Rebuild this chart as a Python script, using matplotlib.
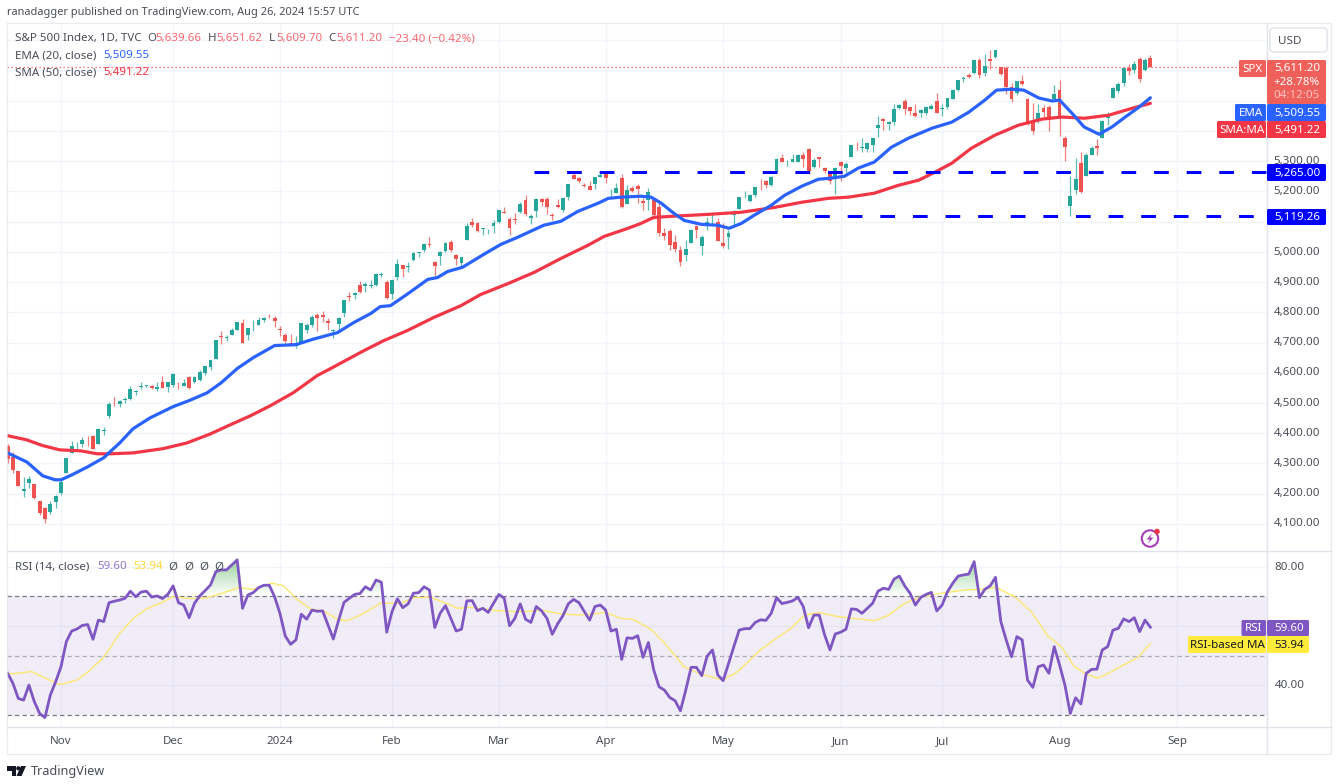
import numpy as np
import matplotlib
matplotlib.use("Agg")
import matplotlib.pyplot as plt
from matplotlib.patches import FancyBboxPatch, Circle, Polygon
from matplotlib.path import Path

plt.rcParams['font.family'] = ['Noto Sans', 'DejaVu Sans']

# daily candles, Oct 18 2023 .. Aug 26 2024
opens = [4357,4322,4274,4210,4235,4232,4175,4152,4140,4172,
    4201,4268,4334,4364,4366,4384,4391,4365,4406,4458,4505,4497,4509,4512,4538,4553,4555,4555,4545,4571,4554,
    4559,4570,4557,4586,4568,4576,4600,4619,4647,4721,4715,4725,4743,4764,4725,4754,4758,4773,4786,4782,
    4745,4726,4697,4690,4703,4741,4759,4792,4791,4772,4739,4760,4797,4854,4856,4889,4886,4888,4892,4925,4899,
    4862,4916,4957,4950,4974,4995,5005,5027,4968,4985,5004,5031,4989,4963,5038,5100,5094,5074,5068,5085,
    5098,5131,5110,5108,5132,5173,5111,5134,5174,5175,5123,5154,5139,5182,5254,5243,5220,5219,5226,5248,
    5258,5204,5195,5244,5158,5212,5217,5167,5172,5171,5149,5064,5068,5032,5005,4988,5028,5084,5020,5085,5115,5099,
    5029,5050,5123,5142,5187,5168,5189,5225,5234,5222,5264,5311,5303,5298,5298,5319,5340,5281,5315,5278,5259,5244,
    5297,5278,5314,5353,5343,5341,5353,5409,5441,5424,5431,5476,5499,5479,5459,5460,5460,5473,5499,
    5471,5478,5507,5537,5572,5584,5591,5636,5590,5638,5644,5610,5608,5544,5526,5565,5506,5428,5433,5476,5478,5506,
    5537,5376,5151,5206,5293,5252,5319,5351,5376,5443,5508,5531,5557,5609,5603,5637,5603,5640]
highs = [4364,4339,4276,4256,4259,4232,4177,4156,4177,4195,
    4246,4319,4374,4372,4386,4391,4393,4416,4421,4504,4521,4511,4521,4557,4542,4568,4560,4560,4568,4588,4570,
    4599,4570,4578,4590,4590,4609,4623,4643,4710,4739,4725,4749,4769,4779,4749,4773,4784,4785,4794,4788,
    4755,4730,4727,4721,4764,4765,4790,4799,4803,4782,4745,4783,4842,4868,4866,4903,4899,4907,4929,4932,4906,
    4906,4975,4958,4965,4999,5000,5030,5049,4970,5003,5032,5038,4994,4983,5094,5111,5098,5080,5077,5104,
    5140,5150,5114,5127,5165,5189,5124,5179,5179,5180,5128,5175,5180,5225,5261,5246,5229,5236,5249,5264,
    5264,5209,5229,5256,5222,5219,5224,5178,5211,5175,5168,5079,5077,5056,5019,5039,5076,5089,5057,5114,5124,5111,
    5096,5073,5140,5181,5200,5192,5215,5240,5238,5250,5312,5325,5305,5325,5324,5329,5342,5311,5315,5282,5265,5280,
    5302,5298,5354,5362,5376,5365,5376,5448,5442,5432,5488,5490,5506,5478,5490,5472,5484,5490,5524,
    5490,5510,5539,5570,5583,5590,5634,5642,5655,5667,5667,5613,5614,5557,5563,5586,5508,5491,5489,5487,5486,5551,
    5567,5383,5250,5312,5330,5328,5351,5372,5436,5461,5546,5561,5608,5621,5632,5643,5641,5652]
lows = [4303,4269,4224,4189,4220,4181,4128,4104,4132,4153,
    4197,4268,4334,4348,4355,4359,4347,4365,4393,4451,4491,4487,4499,4511,4526,4545,4552,4546,4540,4551,4537,
    4554,4546,4557,4546,4565,4574,4594,4608,4644,4694,4704,4725,4743,4699,4709,4737,4758,4768,4781,4751,
    4723,4700,4687,4683,4699,4730,4752,4739,4769,4740,4715,4740,4785,4839,4844,4865,4866,4881,4887,4917,4845,
    4845,4907,4918,4934,4970,4984,5000,5016,4920,4956,5000,4999,4955,4946,5038,5081,5067,5057,5058,5061,
    5094,5127,5056,5092,5128,5117,5091,5115,5151,5125,5104,5145,5131,5171,5240,5229,5216,5203,5209,5246,
    5229,5184,5195,5146,5157,5197,5160,5138,5138,5108,5052,5039,5007,5001,4954,4969,5028,5047,4990,5073,5089,5035,
    5013,5011,5086,5143,5178,5166,5180,5205,5211,5218,5264,5297,5283,5298,5298,5281,5257,5279,5280,5262,5223,5191,
    5235,5257,5314,5336,5331,5331,5331,5380,5403,5403,5421,5471,5455,5452,5447,5447,5452,5474,5460,
    5451,5472,5507,5531,5562,5574,5588,5576,5583,5606,5640,5586,5522,5497,5518,5551,5419,5390,5427,5444,5399,5505,
    5383,5302,5119,5193,5195,5252,5321,5320,5376,5421,5508,5526,5550,5585,5593,5561,5599,5610]
closes = [4315,4278,4224,4217,4248,4187,4137,4117,4167,4194,
    4238,4318,4358,4366,4378,4383,4347,4415,4412,4496,4503,4508,4514,4547,4538,4557,4559,4550,4554,4551,4568,
    4595,4569,4567,4549,4585,4604,4622,4643,4707,4719,4719,4741,4768,4699,4747,4755,4774,4781,4783,4770,
    4743,4705,4689,4697,4764,4757,4783,4780,4784,4766,4739,4781,4840,4851,4865,4868,4895,4891,4928,4925,4846,
    4906,4959,4943,4954,4995,4998,5027,5022,4953,5001,5030,5006,4976,4982,5087,5089,5070,5078,5070,5096,
    5137,5130,5079,5105,5157,5124,5117,5175,5165,5150,5117,5149,5179,5225,5241,5234,5218,5204,5248,5254,
    5243,5205,5211,5147,5204,5202,5209,5161,5199,5123,5061,5051,5022,5011,4967,5011,5071,5072,5048,5100,5116,5036,
    5018,5064,5128,5181,5187,5188,5214,5223,5221,5247,5308,5297,5303,5308,5321,5307,5268,5305,5306,5267,5235,5278,
    5283,5292,5354,5352,5347,5361,5375,5421,5433,5431,5473,5487,5473,5465,5448,5469,5478,5483,5460,
    5475,5509,5537,5567,5572,5577,5634,5585,5615,5631,5667,5588,5545,5505,5564,5555,5427,5400,5459,5464,5436,5522,
    5446,5346,5186,5240,5199,5319,5344,5344,5434,5455,5543,5554,5608,5597,5621,5571,5635,5611.2]

ema_days = [0,3.6,6.6,8.9,10,12,15,18,21,23.5,26.7,31,34,37.4,40,43,46,50,54,57,61.8,64.8,68,69.8,71.7,75,78.7,80.5,82.4,85.2,
    89.2,92.4,95.5,100.4,103.6,106.8,110.6,112.5,114.9,118.6,120.5,122.4,124.8,126.7,129.9,133,135.1,137.4,139.8,143,145.5,
    148.7,151.8,154.3,156.7,159.3,162.3,165.5,168.7,173.1,176.8,180,183,185.2,188,190.3,193.1,195.6,197,199.3,201.6,204.4,
    206.8,209.3,211.9,214]
ema_vals = [4335,4305,4259,4246,4246,4262,4289,4319,4368,4415,4451,4488,4508,4534,4567,4614,4650,4690,4693,4710,4733,4766,4796,4819,4822,4862,4909,4915,4935,4949,
    4992,5025,5048,5088,5101,5134,5161,5177,5181,5184,5181,5161,5127,5104,5091,5088,5078,5094,5121,5154,5187,
    5217,5240,5244,5250,5277,5297,5346,5376,5409,5429,5462,5502,5535,5538,5535,5509,5499,5502,5459,5413,5389,
    5413,5446,5479,5509.55]
sma_days = [0,3.6,6.6,9.8,13.6,16.8,19.2,23.5,29.1,33.6,38,41.7,45.5,49.2,53.5,58,60.5,66.7,70.4,74.9,79.8,84.9,88.6,93.7,98.6,103.6,108.6,111.7,116.2,
    118.6,121,124.8,131.2,137.4,143.6,148.7,153.7,157.5,162.3,166.8,170.6,173.6,176.8,180.5,184.9,189.3,193.7,197.4,201.7,206.2,210.6,214]
sma_vals = [4392,4378,4359,4345,4342,4332,4332,4335,4349,4368,4398,4428,4458,4491,4534,4591,4614,4673,4706,4740,4783,4822,4859,4895,4932,4978,5021,5051,5078,
    5094,5114,5118,5124,5131,5147,5164,5177,5181,5194,5220,5237,5263,5293,5343,5386,5419,5439,5446,5442,5452,5475,5491.22]

rsi_vals = [44.0,40.6,35.5,34.9,40.0,34.4,30.4,29.0,36.6,41.1,
    46.2,54.7,58.3,59.0,60.2,60.5,55.5,62.0,61.5,67.9,
    68.4,68.8,69.4,71.8,69.9,71.5,71.8,69.8,70.2,69.3,
    70.7,73.6,67.9,67.1,62.8,67.7,70.2,72.0,73.9,78.4,
    79.0,79.0,80.7,82.4,66.0,70.5,71.3,73.0,73.8,73.8,
    69.9,64.3,56.6,53.8,55.3,64.0,62.3,65.4,65.0,65.1,
    60.3,55.6,62.0,68.0,69.4,70.7,71.0,73.3,72.2,75.6,
    74.8,57.9,64.9,69.2,66.2,67.5,71.1,71.3,73.3,72.2,
    59.5,64.3,66.9,62.6,
    58.3,58.9,68.5,68.6,65.2,66.0,64.6,67.7,70.7,69.4,
    60.1,62.6,67.5,62.3,61.2,66.6,65.1,62.6,57.2,60.7,
    63.5,67.5,69.0,67.9,64.9,62.0,66.6,67.1,65.4,58.3,
    58.9,48.7,56.0,55.8,56.7,49.4,54.4,45.1,39.4,38.3,
    35.8,34.7,31.3,38.3,46.0,46.0,43.2,49.8,51.9,43.4,
    41.5,47.3,53.0,58.6,59.1,59.1,61.2,62.1,61.9,64.3,
    69.6,67.6,68.0,68.5,69.7,66.6,59.4,63.7,63.7,57.0,
    51.9,57.3,57.9,58.9,65.8,65.6,64.3,66.0,67.7,71.8,
    72.8,72.4,75.9,76.9,73.6,71.1,67.1,69.7,70.7,71.4,
    65.1,67.1,71.6,74.5,76.9,77.3,77.6,81.8,69.6,72.4,
    73.6,76.5,61.5,55.3,49.6,56.4,55.3,41.7,39.2,46.2,
    46.8,44.0,53.0,46.8,40.0,30.4,35.7,33.6,44.0,45.3,
    45.4,51.9,53.0,58.6,59.2,62.4,61.5,62.8,58.1,62.0,59.6]
rsi_ma_days = [0,2,4.5,6.7,9.8,13,15.5,18,21,23.6,26,28.6,31,34.2,37.3,41,43.3,46,49.5,51.7,54.2,56.7,59.2,61.7,63.6,66.1,69.8,73.6,76.1,79.2,
    83,84.2,86.7,90.7,94.2,97.3,99.8,103.6,106.7,109.8,112,114.8,117,120.5,123.6,126.7,129.8,133.9,136.7,141,144.2,146.7,149.2,152,154.8,158.6,162.3,164.8,
    168,171.1,174.8,179.2,182.3,185.1,188.6,191.7,194.8,197.3,199.8,202.3,204.2,206.7,209.2,211.7,214]
rsi_ma_vals = [43.7,44,44.6,42.6,40.2,41.7,45.1,49.4,57.5,62.6,65.8,67.7,69.9,69.3,69.5,71.6,73,72.4,74.5,73.6,69,65.8,65.1,62.3,61.8,63.7,67.7,67.7,69.6,69.7,
    67.1,66,66.3,65.4,64.9,64.9,65.4,64.1,63.7,64.1,64.6,62.6,62.3,58.9,53,46.2,43.7,41.7,44.5,51.9,56.2,59.2,63.7,64.6,63.4,62.5,61.8,63.5,
    67.7,69.9,71.1,72.2,72.4,73.1,69.9,64.9,56.6,53,46.2,43.4,42.3,44.5,47,49.4,53.94]

month_days = [10,31,51,72,92,112,134,156,175,197,219]
month_labels = ['Nov','Dec','2024','Feb','Mar','Apr','May','Jun','Jul','Aug','Sep']
price_ticks = [4100,4200,4300,4400,4500,4600,4700,4800,4900,5000,5100,5200,5300,5400,5500,5600,5700]
price_labels = [4100,4200,4300,4400,4500,4600,4700,4800,4900,5000,5200,5300]
level_high = 5265.00
level_low = 5119.26

UP = '#26a69a'
DOWN = '#ef5350'
GRID = '#f3f5fa'
BORDER = '#e0e3eb'
TXT = '#4a4d57'

W, H = 1339, 784
fig = plt.figure(figsize=(W/100, H/100), dpi=100)

def px_axes(x0, y0, x1, y1):
    return fig.add_axes([x0/W, 1-y1/H, (x1-x0)/W, (y1-y0)/H])

# price pane
ax = px_axes(7, 23, 1266.5, 551)
days = np.arange(len(closes))
xlim = (-0.11, 235.75)
ax.set_xlim(*xlim)
ax.set_ylim(4010.5, 5757)
ax.set_xticks(month_days)
ax.set_yticks(price_ticks)
ax.grid(True, color=GRID, lw=1)
ax.set_axisbelow(True)
ax.tick_params(length=0, labelbottom=False, labelleft=False)
for s in ax.spines.values():
    s.set_visible(False)

o = np.array(opens)
c = np.array(closes)
cols = [UP if b >= a else DOWN for a, b in zip(o, c)]
ax.vlines(days, lows, highs, colors=cols, lw=0.9, alpha=0.75, zorder=3)
ax.bar(days, np.maximum(np.abs(c-o), 1.5), bottom=np.minimum(o, c), width=0.72, color=cols, lw=0, zorder=3)

ax.plot(sma_days, sma_vals, color='#f23645', lw=2.3, zorder=4, solid_capstyle='round', solid_joinstyle='round')
ax.plot(ema_days, ema_vals, color='#2962ff', lw=2.3, zorder=5, solid_capstyle='round', solid_joinstyle='round')
ax.axhline(closes[-1], color='#ff4d57', lw=0.9, ls=(0, (1, 2.2)), zorder=2)

dash = (0, (4.9, 5.97))
ax.plot([98.5, xlim[1]], [level_high, level_high], color='#0000ff', lw=2.16, ls=dash, zorder=6)
ax.plot([145.1, xlim[1]], [level_low, level_low], color='#0000ff', lw=2.16, ls=dash, zorder=6)

# rsi pane
ax2 = px_axes(7, 551, 1266.5, 727)
ax2.set_xlim(*xlim)
ax2.set_ylim(25.8, 85.4)
ax2.set_xticks(month_days)
ax2.set_yticks([40, 60, 80])
ax2.grid(True, color=GRID, lw=1)
ax2.set_axisbelow(True)
ax2.tick_params(length=0, labelbottom=False, labelleft=False)
for s in ax2.spines.values():
    s.set_visible(False)

ax2.axhspan(30, 70, color='#7e57c2', alpha=0.11, lw=0, zorder=1)
ax2.axhline(70, color='#787b86', lw=0.9, ls=(0, (3.5, 2.5)), zorder=2)
ax2.axhline(50, color='#787b86', lw=0.9, alpha=0.55, ls=(0, (3.5, 2.5)), zorder=2)
ax2.axhline(30, color='#787b86', lw=0.9, ls=(0, (3.5, 2.5)), zorder=2)

# overbought shading fades down to the 70 line
rsi = np.array(rsi_vals)
poly = ax2.fill_between(days, rsi, 70, where=rsi >= 70, interpolate=True, color='none', lw=0)
green = np.zeros((64, 1, 4))
green[..., :3] = matplotlib.colors.to_rgb('#4caf50')
green[..., 3] = np.linspace(0.6, 0, 64).reshape(-1, 1)
im = ax2.imshow(green, extent=[xlim[0], xlim[1], 70, 83], aspect='auto', zorder=2, origin='upper')
im.set_clip_path(Path.make_compound_path(*poly.get_paths()), transform=ax2.transData)
ax2.set_xlim(*xlim)
ax2.set_ylim(25.8, 85.4)

ax2.plot(rsi_ma_days, rsi_ma_vals, color='#fde86f', lw=1.0, zorder=3)
ax2.plot(days, rsi_vals, color='#7e57c2', lw=2.0, zorder=4, solid_joinstyle='round')

# chrome drawn in pixel coordinates on top
ov = fig.add_axes([0, 0, 1, 1], facecolor='none')
ov.set_xlim(0, W)
ov.set_ylim(H, 0)
ov.axis('off')

def box(x0, y0, x1, y1, col):
    ov.add_patch(FancyBboxPatch((x0+1, y0+1), x1-x0-2, y1-y0-2, boxstyle='round,pad=1,rounding_size=1.5',
                                fc=col, ec='none', zorder=10))

def label(x, y, s, col=TXT, size=8.3, ha='left', **kw):
    ov.text(x, y+0.8, s, color=col, fontsize=size, ha=ha, va='center', zorder=11, **kw)

# frame
ov.plot([7, 1331, 1331, 7, 7], [23, 23, 754, 754, 23], color=BORDER, lw=0.9, alpha=0.7)
ov.plot([1266.5, 1266.5], [23, 754], color=BORDER, lw=1)
ov.plot([7, 1331], [551, 551], color=BORDER, lw=1)
ov.plot([7, 1331], [727, 727], color=BORDER, lw=1)

# header + legend
label(7, 12, 'ranadagger published on TradingView.com, Aug 26, 2024 15:57 UTC', size=7.95)
label(15, 38, 'S&P 500 Index, 1D, TVC', size=8.3)
PRICE_RED = '#f7686f'
for x_o, s_o, x_v, s_v in [(147, 'O', 155, '5,639.66'), (208, 'H', 216, '5,651.62'),
                           (269, 'L', 276, '5,609.70'), (328, 'C', 336, '5,611.20')]:
    label(x_o, 38, s_o)
    label(x_v, 38, s_v, PRICE_RED)
label(389, 38, '\u221223.40 (\u22120.42%)', PRICE_RED)
label(15, 55, 'EMA (20, close)')
label(103, 55, '5,509.55', '#2962ff')
label(15, 72, 'SMA (50, close)')
label(103, 72, '5,491.22', '#f23645')
label(15, 566, 'RSI (14, close)')
label(97, 566, '59.60', '#9575cd')
label(133, 566, '53.94', '#fdd835')
for xx in [173, 189, 204, 219]:
    label(xx, 566, '\u00d8', ha='center')

# axis labels
for d, s in zip(month_days, month_labels):
    px = 7.6 + 5.34*d
    label(px, 741, s, ha='center', fontweight='bold' if s == '2024' else 'normal')
for p in price_labels:
    label(1297, 161 + (5300-p)*0.3017, f'{p:,}.00', ha='center')
label(1289.5, 567, '80.00', ha='center')
label(1289.5, 685, '40.00', ha='center')

# USD button
ov.add_patch(FancyBboxPatch((1272, 30), 53, 20, boxstyle='round,pad=2,rounding_size=4', fc='white', ec=BORDER, lw=1, zorder=10))
label(1290, 41, 'USD', ha='center', size=8.4)

# price tags
WHITE = 'white'
box(1239, 60, 1266, 77, '#f0605a')
label(1252.5, 68.5, 'SPX', WHITE, ha='center')
box(1267, 60, 1326, 104, '#f0605a')
label(1297, 68, '5,611.20', WHITE, ha='center')
label(1297, 82, '+28.78%', WHITE, ha='center')
label(1297, 95, '04:12:05', '#fbc4c1', ha='center')
box(1235, 104, 1266, 121, '#2962ff')
label(1250.5, 112.5, 'EMA', WHITE, ha='center')
box(1267, 104, 1326, 121, '#2962ff')
label(1297, 112.5, '5,509.55', WHITE, ha='center')
box(1217, 121, 1266, 138, '#f23645')
label(1241.5, 129.5, 'SMA:MA', WHITE, ha='center')
box(1267, 121, 1326, 138, '#f23645')
label(1297, 129.5, '5,491.22', WHITE, ha='center')
box(1267, 164, 1326, 181, '#0000ff')
label(1297, 172.5, '5,265.00', WHITE, ha='center')
box(1267, 209, 1326, 225, '#0000ff')
label(1297, 217, '5,119.26', WHITE, ha='center')

# rsi tags
box(1241.5, 620, 1266, 636, '#7e57c2')
label(1254, 628, 'RSI', WHITE, ha='center')
box(1267, 620, 1309, 636, '#7e57c2')
label(1289.5, 628, '59.60', WHITE, ha='center')
box(1188, 636, 1266, 653, '#ffeb3b')
label(1227, 644.5, 'RSI-based MA', '#131722', ha='center')
box(1267, 636, 1309, 653, '#ffeb3b')
label(1289.5, 644.5, '53.94', '#131722', ha='center')

# flash icon
ov.add_patch(Circle((1150, 538.5), 8.2, fc='white', ec='#a83cb8', lw=1.5, zorder=10))
ov.add_patch(Polygon([(1152.5, 533), (1146.5, 539.5), (1150, 539.5), (1147.5, 544), (1153.5, 537.5), (1150, 537.5)],
                     fc='#a83cb8', ec='none', zorder=11))
ov.add_patch(Circle((1157, 531.5), 2.8, fc='#f23645', ec='none', zorder=12))

# tradingview logo
ov.add_patch(Polygon([(7, 766), (16, 766), (16, 776), (11.5, 776), (11.5, 770.5), (7, 770.5)], fc='#131722', ec='none'))
ov.add_patch(Circle((18.3, 768.3), 2.1, fc='#131722', ec='none'))
ov.add_patch(Polygon([(16.5, 776), (21, 766), (26, 766), (21.5, 776)], fc='#131722', ec='none'))
label(30.5, 771, 'TradingView', '#4a4d57', size=9.1)

fig.savefig('out.png', dpi=100, facecolor='white')
